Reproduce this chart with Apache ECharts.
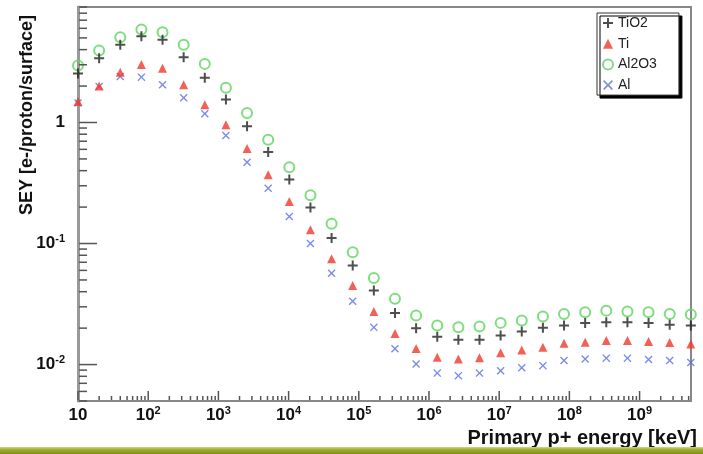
<!DOCTYPE html>
<html><head><meta charset="utf-8">
<script src="https://cdn.jsdelivr.net/npm/echarts@6/dist/echarts.min.js"></script>
<style>html,body{margin:0;padding:0;background:#fff}#c{width:703px;height:454px}</style>
</head><body><div id="c"></div>
<script>
// Primary proton energy [keV]
const energies = [10, 20, 40, 80, 160, 320, 640, 1280, 2560, 5120, 10240, 20480, 40960, 81920,
  163840, 327680, 655360, 1310720, 2621440, 5242880, 10485760, 20971520, 41943040, 83886080,
  167772160, 335544320, 671088640, 1342177280, 2684354560, 5368709120];
const seriesNames = ['TiO2', 'Ti', 'Al2O3', 'Al'];
const seyTiO2 = [2.54, 3.40, 4.39, 5.17, 4.82, 3.46, 2.34, 1.55, 0.93, 0.57, 0.338, 0.198, 0.111, 0.0658,
  0.0409, 0.0267, 0.0200, 0.0170, 0.0160, 0.0160, 0.0174, 0.0188, 0.0201, 0.0210, 0.0221, 0.0224, 0.0224, 0.0221, 0.0213, 0.0210];
const seyTi = [1.49, 2.00, 2.60, 3.02, 2.81, 2.05, 1.40, 0.96, 0.61, 0.37, 0.222, 0.130, 0.0747, 0.0450,
  0.0275, 0.0181, 0.0136, 0.0115, 0.0111, 0.0114, 0.0125, 0.0132, 0.0139, 0.0150, 0.0153, 0.0158, 0.0158, 0.0155, 0.0152, 0.0148];
const seyAl2O3 = [2.96, 3.94, 5.07, 5.87, 5.57, 4.39, 3.05, 1.94, 1.20, 0.72, 0.427, 0.251, 0.146, 0.0848,
  0.0520, 0.0349, 0.0254, 0.0210, 0.0203, 0.0206, 0.0221, 0.0231, 0.0249, 0.0262, 0.0271, 0.0279, 0.0274, 0.0271, 0.0262, 0.0259];
const seyAl = [1.45, 1.98, 2.40, 2.37, 2.05, 1.60, 1.18, 0.78, 0.47, 0.286, 0.167, 0.100, 0.0568, 0.0334,
  0.0203, 0.0135, 0.0101, 0.0085, 0.0081, 0.0085, 0.0089, 0.0094, 0.0098, 0.0108, 0.0111, 0.0113, 0.0113, 0.0110, 0.0108, 0.0104];

const xMin = 10, xMax = 5.4e9, yMin = 0.005, yMax = 9;
const FONT = "'Liberation Sans', Arial, sans-serif";

function logTicks(lo, hi) {
  const out = [];
  for (let e = Math.floor(Math.log10(lo)); e <= Math.ceil(Math.log10(hi)); e++) {
    for (let m = 1; m <= 9; m++) {
      const v = m * Math.pow(10, e);
      if (v >= lo * 0.999999 && v <= hi * 1.000001) out.push([v, m === 1 ? 1 : 0]);
    }
  }
  return out;
}
function expOf(v) {
  const l = Math.log10(v), e = Math.round(l);
  return Math.abs(l - e) < 1e-6 ? e : null;
}
const rich = {
  b: { fontFamily: FONT, fontWeight: 'bold', fontSize: 17, color: '#111', lineHeight: 20 },
  s: { fontFamily: FONT, fontWeight: 'bold', fontSize: 11, color: '#111', verticalAlign: 'top', lineHeight: 20, padding: [0, 0, 9, 0] }
};

const P = 'path://';
const plusPath = P + 'M4,0H6V4H10V6H6V10H4V6H0V4H4Z';
const xPath = P + 'M0,1.2L1.2,0L5,3.8L8.8,0L10,1.2L6.2,5L10,8.8L8.8,10L5,6.2L1.2,10L0,8.8L3.8,5Z';

function pts(arr) { return energies.map((e, i) => [e, arr[i]]); }

const xt = logTicks(xMin, xMax);
const yt = logTicks(yMin, yMax);

const chart = echarts.init(document.getElementById('c'));
chart.setOption({
  animation: false,
  backgroundColor: '#fff',
  grid: { left: 78, right: 12, top: 7, bottom: 53, show: true, borderColor: '#888', borderWidth: 2, backgroundColor: '#fff' },
  xAxis: {
    type: 'log', logBase: 10, min: xMin, max: xMax,
    axisLine: { show: true, lineStyle: { color: '#888', width: 2 } },
    axisTick: { show: false }, splitLine: { show: false },
    axisLabel: {
      margin: 4, showMinLabel: true, showMaxLabel: false,
      formatter: v => { const e = expOf(v); if (e === null) return ''; return e === 1 ? '{b|10}' : '{b|10}{s|' + e + '}'; },
      rich: rich
    }
  },
  yAxis: {
    type: 'log', logBase: 10, min: yMin, max: yMax,
    axisLine: { show: true, lineStyle: { color: '#999', width: 3 } },
    axisTick: { show: false }, splitLine: { show: false },
    axisLabel: {
      margin: 13, showMinLabel: false, showMaxLabel: false,
      formatter: v => { const e = expOf(v); if (e === null) return ''; return e === 0 ? '{b|1}' : '{b|10}{s|' + e + '}'; },
      rich: rich
    }
  },
  legend: {
    data: seriesNames, orient: 'vertical', left: 597, top: 13,
    backgroundColor: '#fff', borderColor: '#333', borderWidth: 1,
    shadowColor: '#000', shadowOffsetX: 3, shadowOffsetY: 3, shadowBlur: 0,
    padding: [3, 22, 3, 5], itemWidth: 10, itemHeight: 10, itemGap: 6.7, itemTextGap: 2,
    textStyle: { fontFamily: FONT, fontSize: 14, color: '#222', lineHeight: 14 }
  },
  graphic: [
    { type: 'text', x: 27, y: 115, rotation: Math.PI / 2,
      style: { text: 'SEY [e-/proton/surface]', textAlign: 'center', textVerticalAlign: 'middle', font: 'bold 18px ' + FONT, fill: '#111' } },
    { type: 'text', x: 697, y: 438,
      style: { text: 'Primary p+ energy [keV]', textAlign: 'right', textVerticalAlign: 'middle', font: 'bold 20px ' + FONT, fill: '#111' } },
    { type: 'rect', shape: { x: 0, y: 447, width: 703, height: 7 },
      style: { fill: new echarts.graphic.LinearGradient(0, 0, 0, 1, [{ offset: 0, color: '#d4da78' }, { offset: 0.35, color: '#a3b032' }, { offset: 1, color: '#7f8e1c' }]) } }
  ],
  series: [
    { type: 'custom', silent: true, z: 5, clip: false, coordinateSystem: 'cartesian2d',
      data: xt.map(t => [t[0], yMin, t[1]]), encode: { x: 0, y: 1 },
      renderItem: (params, api) => {
        const p = api.coord([api.value(0), yMin]); const len = api.value(2) ? 9 : 4;
        return { type: 'line', shape: { x1: p[0], y1: p[1] - 1, x2: p[0], y2: p[1] - 1 - len }, style: { stroke: '#555', lineWidth: 1.5 } };
      } },
    { type: 'custom', silent: true, z: 5, clip: false, coordinateSystem: 'cartesian2d',
      data: yt.map(t => [xMin, t[0], t[1]]), encode: { x: 0, y: 1 },
      renderItem: (params, api) => {
        const p = api.coord([xMin, api.value(1)]); const len = api.value(2) ? 18 : 8;
        return { type: 'line', shape: { x1: p[0] + 1, y1: p[1], x2: p[0] + 1 + len, y2: p[1] }, style: { stroke: '#555', lineWidth: 1.5 } };
      } },
    { name: 'TiO2', type: 'scatter', clip: false, symbol: plusPath, symbolSize: 10, z: 4,
      itemStyle: { color: '#222' }, data: pts(seyTiO2) },
    { name: 'Ti', type: 'scatter', clip: false, symbol: 'triangle', symbolSize: 9, z: 3,
      itemStyle: { color: '#f03a2c' }, data: pts(seyTi) },
    { name: 'Al2O3', type: 'scatter', clip: false, symbol: 'circle', symbolSize: 10, z: 3,
      itemStyle: { color: 'rgba(0,0,0,0)', borderColor: '#5ed45e', borderWidth: 2 }, data: pts(seyAl2O3) },
    { name: 'Al', type: 'scatter', clip: false, symbol: xPath, symbolSize: 8, z: 2,
      itemStyle: { color: '#5a6ee6' }, data: pts(seyAl) }
  ]
});
</script>
</body></html>
